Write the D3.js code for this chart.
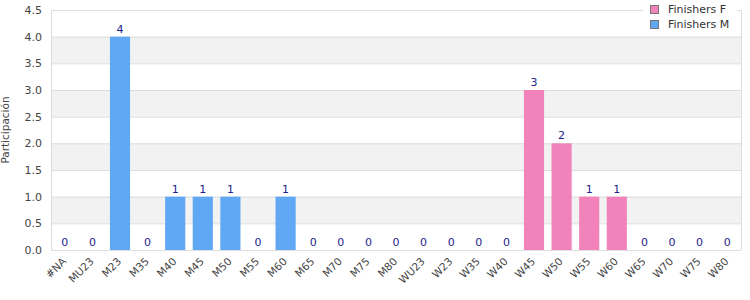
<!DOCTYPE html>
<html><head><meta charset="utf-8">
<script src="https://cdn.jsdelivr.net/npm/d3@7"></script>
<style>body{margin:0;background:#fff;}svg{display:block;font-family:"DejaVu Sans",sans-serif;}</style>
</head><body><svg id="c" width="750" height="300"></svg>
<script>
const categories = ["#NA","MU23","M23","M35","M40","M45","M50","M55","M60","M65","M70","M75","M80","WU23","W23","W35","W40","W45","W50","W55","W60","W65","W70","W75","W80"];
const finishersM = [0,0,4,0,1,1,1,0,1,0,0,0,0,null,null,null,null,null,null,null,null,null,null,null,null];
const finishersF = [null,null,null,null,null,null,null,null,null,null,null,null,null,0,0,0,0,3,2,1,1,0,0,0,0];
const yTicks = [0,0.5,1,1.5,2,2.5,3,3.5,4,4.5];
const seriesNames = ["Finishers F","Finishers M"];
const colors = {"Finishers F":"#F282BA","Finishers M":"#61A8F4"};

const svg = d3.select("#c");
const m = {l:51, r:741, t:10, b:250};
const x = d3.scaleBand().domain(categories).range([m.l, m.r]).paddingInner(0.27).paddingOuter(0.135);
const y = d3.scaleLinear().domain([0,4.5]).range([m.b, m.t]);

for (let i=0;i<yTicks.length-1;i++){
  if (i%2===1) svg.append("rect").attr("x",m.l).attr("width",m.r-m.l)
    .attr("y",y(yTicks[i+1])).attr("height",y(yTicks[i])-y(yTicks[i+1])).attr("fill","#f2f2f2");
}
svg.append("g").selectAll("line").data(yTicks).join("line")
  .attr("x1",m.l).attr("x2",m.r).attr("y1",d=>y(d)+0.5).attr("y2",d=>y(d)+0.5)
  .attr("stroke","#dddddd");
svg.append("line").attr("x1",m.l+0.5).attr("x2",m.l+0.5).attr("y1",m.t).attr("y2",m.b).attr("stroke","#dddddd");
svg.append("line").attr("x1",m.r+0.5).attr("x2",m.r+0.5).attr("y1",m.t).attr("y2",m.b).attr("stroke","#dddddd");

svg.append("g").selectAll("text").data(yTicks).join("text")
  .attr("x",42).attr("y",d=>y(d)+4).attr("text-anchor","end")
  .attr("font-size",11).attr("fill","#444").text(d=>d.toFixed(1));
svg.append("text").attr("transform",`translate(9,${(m.t+m.b)/2}) rotate(-90)`)
  .attr("text-anchor","middle").attr("font-size",10.5).attr("fill","#444").text("Participación");

svg.append("g").selectAll("text").data(categories).join("text")
  .attr("transform",d=>`translate(${x(d)+x.bandwidth()/2+2},${m.b+12}) rotate(-45)`)
  .attr("text-anchor","end").attr("font-size",10.5).attr("fill","#444").text(d=>d);

const all = [];
categories.forEach((c,i)=>{
  if (finishersM[i]!==null) all.push({c, v:finishersM[i], s:"Finishers M"});
  if (finishersF[i]!==null) all.push({c, v:finishersF[i], s:"Finishers F"});
});
svg.append("g").selectAll("rect").data(all.filter(d=>d.v>0)).join("rect")
  .attr("x",d=>x(d.c)).attr("width",x.bandwidth())
  .attr("y",d=>y(d.v)).attr("height",d=>y(0)-y(d.v)).attr("fill",d=>colors[d.s]);
svg.append("g").selectAll("text").data(all).join("text")
  .attr("x",d=>x(d.c)+x.bandwidth()/2).attr("y",d=>y(d.v)-4)
  .attr("text-anchor","middle").attr("font-size",11).attr("fill","#1e1e8c").text(d=>d.v);

const lg = svg.append("g");
lg.append("rect").attr("x",643).attr("y",0).attr("width",94).attr("height",34).attr("fill","#fff");
seriesNames.forEach((s,i)=>{
  lg.append("rect").attr("x",650.5).attr("y",5.5+i*15).attr("width",8).attr("height",8)
    .attr("fill",colors[s]).attr("stroke","#777").attr("stroke-width",1);
  lg.append("text").attr("x",668).attr("y",13+i*15).attr("font-size",11).attr("fill","#333").text(s);
});
</script></body></html>
